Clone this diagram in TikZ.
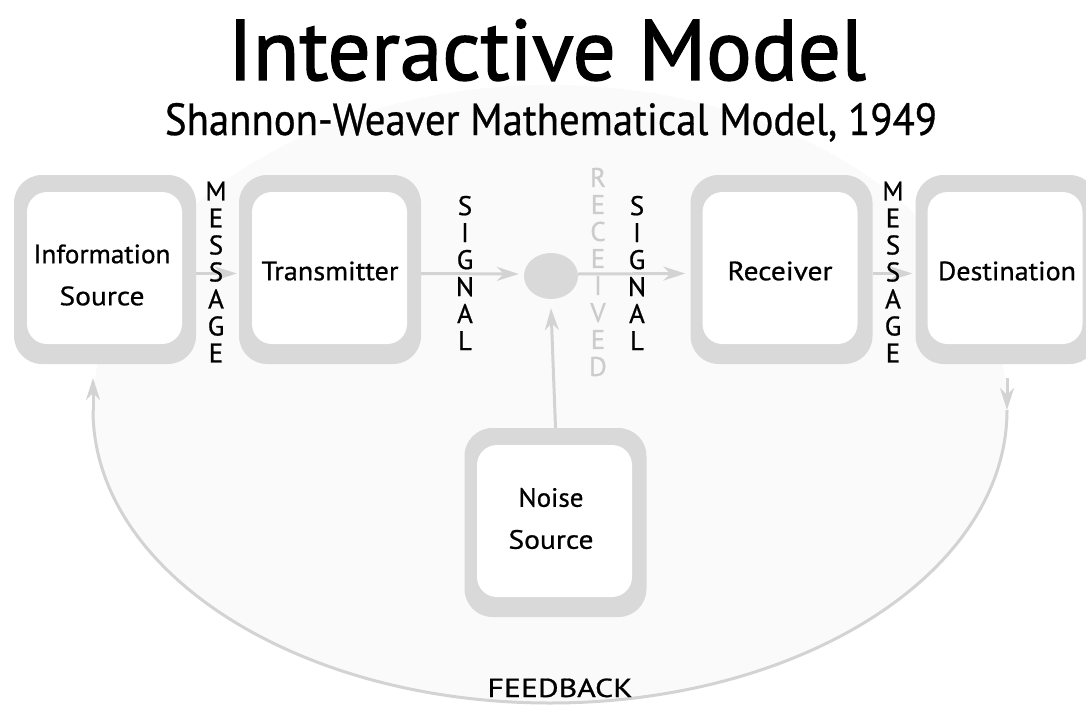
\documentclass[tikz,border=0pt]{standalone}
\usepackage{fontspec}
\setmainfont{PT Sans}[FakeBold=0.7]
\newfontfamily\titlefont{PT Sans}[FakeBold=1.6]
\usetikzlibrary{arrows.meta,calc,shapes.geometric}
\definecolor{boxgray}{HTML}{D9D9D9}
\definecolor{linegray}{HTML}{D3D3D3}
\definecolor{bgfill}{HTML}{FAFAFA}
\definecolor{lettergray}{HTML}{CCCCCC}
\newcommand{\fitw}[2]{\resizebox{#1pt}{\height}{#2}}
\begin{document}
\begin{tikzpicture}[x=1pt,y=-1pt,
  outerbox/.style={fill=boxgray, rounded corners=28pt, minimum width=182pt, minimum height=189pt, inner sep=0pt},
  innerbox/.style={fill=white, rounded corners=20pt, minimum width=155pt, minimum height=152pt, inner sep=0pt},
  boxtext/.style={align=center, inner sep=0pt, font=\fontsize{26.5}{42}\selectfont},
  vletters/.style={align=center, inner sep=0pt, font=\fontsize{27}{27}\selectfont},
  arr/.style={draw=linegray, line width=3pt, -{Stealth[length=22pt,width=14pt,inset=7pt]}},
  fb/.style={draw=linegray, line width=3pt}
]
\useasboundingbox (0,0) rectangle (1086,704);
\clip (0,0) rectangle (1086,704);
\fill[white] (0,0) rectangle (1086,704);
% faint background region
\fill[bgfill] (1007,410) .. controls (1007,230) and (802,85) .. (550,85)
   .. controls (298,85) and (93,230) .. (93,410)
   .. controls (93,572) and (298,703) .. (550,703)
   .. controls (802,703) and (1007,572) .. (1007,410) -- cycle;
% feedback curve
\coordinate (fbR) at (1007,410);
\coordinate (fbB) at (550,703);
\coordinate (fbL) at (93,410);
\coordinate (fbRtail) at (1007,378);
\coordinate (fbLtip) at (93,378);
\draw[fb] (fbR) .. controls (1007,572) and (802,703) .. (fbB)
   .. controls (298,703) and (93,572) .. (fbL);
\draw[arr] (fbRtail) -- (fbR);
\draw[arr] (fbL) -- (fbLtip);
% boxes
\node[outerbox] (infoO) at (105,269.5) {};
\node[innerbox] (info) at (104.5,268) {};
\node[outerbox] (transO) at (330,269.5) {};
\node[innerbox] (trans) at (329.5,268) {};
\node[outerbox] (recvO) at (781.5,269.5) {};
\node[innerbox] (recv) at (780,268) {};
\node[outerbox] (destO) at (1006.5,269.5) {};
\node[innerbox] (dest) at (1005,268) {};
\node[outerbox] (noiseO) at (555.5,522.5) {};
\node[innerbox] (noise) at (554.5,521) {};
\node[ellipse, fill=boxgray, minimum width=54pt, minimum height=46pt, inner sep=0pt] (ch) at (551,276) {};
% box texts
\node[boxtext] (infoT) at (102,275) {\fitw{137}{Information}\\\fitw{85}{Source}};
\node[boxtext] (transT) at (330,271) {\fitw{137}{Transmitter}};
\node[boxtext] (recvT) at (780,271) {\fitw{105}{Receiver}};
\node[boxtext] (destT) at (1007,271) {\fitw{138}{Destination}};
\node[boxtext] (noiseT) at (551,518.5) {\fitw{65}{Noise}\\\fitw{85}{Source}};
% arrows
\draw[arr] ($(infoO.east)+(0,4)$) -- ($(transO.west)+(-2,4)$);
\draw[arr] ($(transO.east)+(0,4)$) -- ($(ch.west)+(-5,-2)$);
\draw[arr] ($(ch.east)+(0,-2)$) -- ($(recvO.west)+(-5,4)$);
\draw[arr] ($(recvO.east)+(0,4)$) -- ($(destO.west)+(-3,4)$);
\draw[arr] (noiseO.north) -- ($(ch.south)+(0,9)$);
% vertical labels
\node[vletters] (msg1) at (216,272) {M\\E\\S\\S\\A\\G\\E};
\node[vletters] (sig1) at (465,273) {S\\I\\G\\N\\A\\L};
\node[vletters, text=lettergray] (rcvd) at (598,272) {R\\E\\C\\E\\I\\V\\E\\D};
\node[vletters] (sig2) at (637,273) {S\\I\\G\\N\\A\\L};
\node[vletters] (msg2) at (893,272) {M\\E\\S\\S\\A\\G\\E};
% titles
\node[inner sep=0pt, font=\titlefont\fontsize{86}{90}\selectfont] (title) at (547,50) {\fitw{638}{Interactive Model}};
\node[inner sep=0pt, anchor=base, font=\fontsize{45}{50}\selectfont] (subtitle) at (551,135) {\fitw{772}{Shannon-Weaver Mathematical Model, 1949}};
\node[inner sep=0pt, anchor=base, font=\fontsize{26}{30}\selectfont] (fbtext) at (560,697) {\fitw{145}{FEEDBACK}};
\end{tikzpicture}
\end{document}
